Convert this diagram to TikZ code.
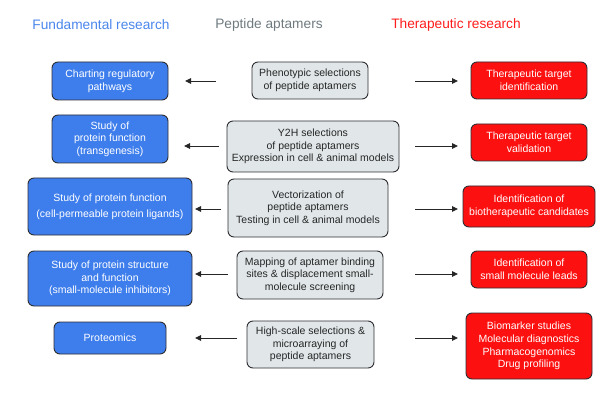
\documentclass[tikz,border=0pt]{standalone}
\usepackage{fontspec}
\setmainfont{Liberation Sans}
\usetikzlibrary{arrows.meta}
\definecolor{fblue}{RGB}{62,126,236}
\definecolor{hblue}{RGB}{74,134,236}
\definecolor{tred}{RGB}{252,16,16}
\definecolor{hred}{RGB}{255,28,28}
\definecolor{pgray}{RGB}{225,231,233}
\definecolor{hgray}{RGB}{110,122,128}
\definecolor{edge}{RGB}{45,45,50}
\begin{document}
\begin{tikzpicture}[x=1pt,y=-1pt,
  base/.style={draw=edge,line width=0.9pt,rounded corners=6pt,inner sep=0pt,align=center,
    font=\fontsize{10.5}{12.6}\selectfont},
  fund/.style={base,fill=fblue,text=white},
  pept/.style={base,fill=pgray,text=black!85},
  ther/.style={base,fill=tred,text=white},
  head/.style={font=\fontsize{13.7}{16}\selectfont},
  arr/.style={line width=0.9pt,draw=black!85,-{Triangle[length=6pt,width=5.5pt]}}]
\useasboundingbox (0,0) rectangle (600,401);
% headings
\node[head,text=hblue] (h1) at (101,25) {Fundamental research};
\node[head,text=hgray] (h2) at (269,25) {Peptide aptamers};
\node[head,text=hred] (h3) at (456,25) {Therapeutic research};
% left column
\node[fund,minimum width=116pt,minimum height=38pt] (L1) at (110,81) {Charting regulatory\\pathways};
\node[fund,minimum width=116pt,minimum height=48pt] (L2) at (110,139) {Study of\\protein function\\(transgenesis)};
\node[fund,minimum width=164pt,minimum height=57pt,font=\fontsize{10.5}{16.3}\selectfont] (L3) at (110,206.5) {Study of protein function\\(cell-permeable protein ligands)};
\node[fund,minimum width=164pt,minimum height=55pt] (L4) at (110,278.5) {Study of protein structure\\and function\\(small-molecule inhibitors)};
\node[fund,minimum width=112pt,minimum height=32pt] (L5) at (110,338) {Proteomics};
% middle column
\node[pept,minimum width=116pt,minimum height=37pt] (M1) at (310,80.5) {Phenotypic selections\\of peptide aptamers};
\node[pept,minimum width=172pt,minimum height=51pt] (M2) at (313,146.5) {Y2H selections\\of peptide aptamers\\Expression in cell \& animal models};
\node[pept,minimum width=160pt,minimum height=58pt] (M3) at (308,208) {Vectorization of\\peptide aptamers\\Testing in cell \& animal models};
\node[pept,minimum width=146pt,minimum height=48pt] (M4) at (310,275) {Mapping of aptamer binding\\sites \& displacement small-\\molecule screening};
\node[pept,minimum width=127pt,minimum height=47pt] (M5) at (310.5,344.5) {High-scale selections \&\\microarraying of\\peptide aptamers};
% right column
\node[ther,minimum width=116pt,minimum height=37pt] (R1) at (529,80.5) {Therapeutic target\\identification};
\node[ther,minimum width=116pt,minimum height=37pt] (R2) at (529,142.5) {Therapeutic target\\validation};
\node[ther,minimum width=132pt,minimum height=41pt] (R3) at (529,206.5) {Identification of\\biotherapeutic candidates};
\node[ther,minimum width=116pt,minimum height=37pt] (R4) at (529,269.5) {Identification of\\small molecule leads};
\node[ther,minimum width=126pt,minimum height=66pt] (R5) at (529,346) {Biomarker studies\\Molecular diagnostics\\Pharmacogenomics\\Drug profiling};
% arrow end points
\coordinate (a1s) at (216,81);  \coordinate (a1e) at (185,81);
\coordinate (a2s) at (219,146); \coordinate (a2e) at (184,146);
\coordinate (a3s) at (221,209); \coordinate (a3e) at (195,209);
\coordinate (a4s) at (228,274); \coordinate (a4e) at (195,274);
\coordinate (a5s) at (237,338); \coordinate (a5e) at (195,338);
\coordinate (b1s) at (415,81);  \coordinate (b1e) at (458,81);
\coordinate (b2s) at (415,146); \coordinate (b2e) at (458,146);
\coordinate (b3s) at (415,209); \coordinate (b3e) at (458,209);
\coordinate (b4s) at (415,274); \coordinate (b4e) at (458,274);
\coordinate (b5s) at (415,338); \coordinate (b5e) at (458,338);
\foreach \i in {1,...,5}{
  \draw[arr] (a\i s) -- (a\i e);
  \draw[arr] (b\i s) -- (b\i e);
}
\end{tikzpicture}
\end{document}
